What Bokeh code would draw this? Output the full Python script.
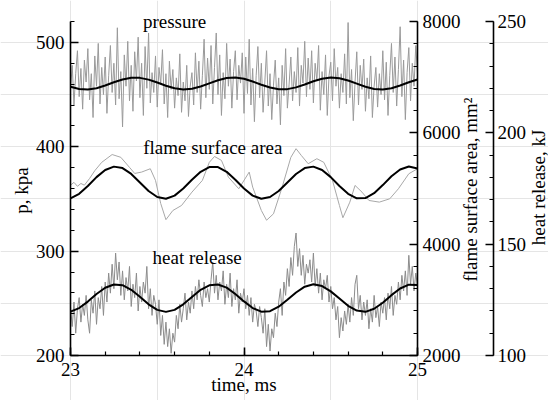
import math
from bokeh.plotting import figure
from bokeh.models import Range1d, LinearAxis, FixedTicker, Label
from bokeh.embed import file_html
from bokeh.resources import INLINE

# ---------------- data ----------------
# raw (noisy) signals sampled every 0.01 ms from 23 to 25 ms
time_raw = [round(23 + 0.01 * i, 2) for i in range(201)]

pressure_raw = [
    455, 478, 440, 470, 492, 448, 475, 436, 483, 462,
    494, 445, 470, 428, 487, 458, 499, 441, 476, 450,
    486, 432, 468, 497, 452, 480, 440, 514, 446, 472,
    419, 488, 458, 501, 444, 478, 434, 491, 463, 505,
    447, 480, 430, 496, 456, 509, 442, 471, 452, 487,
    438, 476, 460, 493, 441, 470, 428, 482, 455, 474,
    437, 466, 449, 489, 433, 462, 444, 478, 429, 458,
    471, 440, 490, 452, 482, 436, 468, 503, 447, 485,
    455, 497, 441, 476, 509, 450, 488, 430, 471, 446,
    499, 458, 484, 437, 472, 492, 445, 478, 461, 490,
    432, 486, 451, 503, 440, 475, 424, 468, 496, 447,
    480, 433, 462, 492, 439, 470, 426, 459, 483, 441,
    466, 421, 478, 449, 494, 437, 460, 486, 444, 472,
    452, 495, 439, 478, 461, 501, 448, 485, 455, 492,
    442, 480, 463, 497, 435, 472, 450, 488, 430, 468,
    481, 444, 494, 458, 476, 437, 470, 452, 489, 441,
    519, 447, 474, 425, 462, 491, 440, 478, 455, 484,
    434, 466, 446, 487, 428, 458, 476, 438, 470, 450,
    492, 445, 481, 430, 468, 499, 452, 486, 439, 474,
    515, 448, 483, 426, 471, 495, 444, 480, 458, 497,
    470,
]

heat_raw = [
    122, 113, 124, 110, 121, 126, 115, 123, 118, 127,
    116, 110, 125, 119, 129, 114, 126, 121, 131, 118,
    133, 124, 137, 128, 141, 130, 146, 134, 142, 127,
    138, 125, 135, 129, 140, 122, 132, 126, 137, 120,
    131, 124, 133, 128, 140, 121, 130, 118, 127, 123,
    114, 125, 109, 118, 105, 115, 104, 112, 101, 110,
    106, 118, 112, 123, 115, 121, 128, 116, 124, 119,
    129, 121, 131, 125, 134, 127, 122, 133, 126, 130,
    124, 134, 142, 128, 136, 125, 133, 129, 138, 123,
    132, 126, 137, 122, 130, 125, 134, 119, 128, 124,
    130, 121, 127, 118, 126, 115, 123, 120, 113, 122,
    117, 110, 121, 104, 114, 102, 112, 108, 119, 113,
    124, 130, 118, 133, 127, 139, 131, 144, 136, 149,
    155, 140, 148, 136, 145, 132, 141, 137, 143, 133,
    146, 131, 139, 128, 137, 125, 134, 130, 136, 124,
    131, 121, 126, 116, 122, 108, 117, 111, 120, 114,
    123, 115, 126, 118, 132, 136, 121, 127, 116, 124,
    118, 125, 112, 121, 115, 127, 117, 122, 113, 124,
    119, 126, 116, 128, 121, 131, 118, 127, 123, 133,
    125, 136, 129, 138, 127, 145, 132, 140, 129, 137,
    131,
]

flame_time = [
    23.00, 23.02, 23.04, 23.06, 23.08, 23.11, 23.14, 23.18, 23.24, 23.29,
    23.34, 23.37, 23.41, 23.46, 23.49, 23.52, 23.55, 23.59, 23.64, 23.70,
    23.76, 23.80, 23.83, 23.87, 23.91, 23.97, 24.03, 24.05, 24.10, 24.13,
    24.17, 24.22, 24.27, 24.30, 24.33, 24.37, 24.42, 24.46, 24.51, 24.55,
    24.57, 24.61, 24.64, 24.68, 24.72, 24.78, 24.84, 24.89, 24.95, 25.00,
]
flame_raw = [
    5060, 5110, 5040, 5090, 5060, 5180, 5320, 5470, 5610, 5560,
    5380, 5270, 5295, 5355, 5145, 4730, 4440, 4605, 4695, 4935,
    5145, 5470, 5575, 5505, 5205, 4995, 5295, 5025, 4605, 4430,
    4545, 5025, 5560, 5715, 5595, 5445, 5535, 5470, 5145, 4695,
    4475, 4755, 5055, 4935, 4785, 4755, 4815, 4995, 5265, 5355,
]

# fitted (smooth) curves read every 0.05 ms
time_fit = [round(23 + 0.05 * i, 2) for i in range(41)]
pressure_fit = [
    457.5, 455.4, 454.9, 456.1, 458.7, 461.8, 464.5, 466.1, 466.0, 464.3,
    461.5, 458.4, 456.0, 454.9, 455.6, 457.7, 460.7, 463.7, 465.8, 466.3,
    465.1, 462.5, 459.4, 456.7, 455.1, 455.2, 456.9, 459.7, 462.8, 465.2,
    466.3, 465.6, 463.5, 460.5, 457.5, 455.4, 454.9, 456.1, 458.7, 461.8,
    464.5,
]
flame_fit = [
    4824, 4904, 5045, 5204, 5333, 5393, 5367, 5262, 5109, 4956,
    4847, 4816, 4872, 4999, 5157, 5300, 5384, 5384, 5300, 5157,
    4999, 4872, 4816, 4847, 4955, 5109, 5261, 5367, 5393, 5333,
    5204, 5045, 4904, 4824, 4828, 4916, 5061, 5219, 5342, 5394,
    5360,
]
heat_fit = [
    119.7, 121.3, 124.2, 127.6, 130.4, 131.9, 131.6, 129.5, 126.4, 123.0,
    120.5, 119.6, 120.5, 123.0, 126.3, 129.5, 131.5, 131.9, 130.5, 127.6,
    124.3, 121.3, 119.7, 119.9, 121.9, 125.0, 128.3, 130.9, 132.0, 131.2,
    128.8, 125.6, 122.3, 120.2, 119.6, 121.0, 123.7, 127.1, 130.1, 131.8,
    131.7,
]

x_ticks = [23, 24, 25]
p_ticks = [200, 300, 400, 500]
flame_ticks = [2000, 4000, 6000, 8000]
heat_ticks = [100, 150, 200, 250]

# ---------------- figure ----------------
FONT = "Liberation Serif"
FS = "19px"

# the whole canvas is the plotting frame; axes sit at fixed data locations
p = figure(width=548, height=400, output_backend="svg", toolbar_location=None,
           x_range=Range1d(22.59654, 25.75504), y_range=Range1d(156.89, 540.12),
           x_axis_location=None, y_axis_location=None,
           min_border=0, min_border_left=0, min_border_right=0,
           min_border_top=0, min_border_bottom=0)
p.extra_y_ranges = {"flame": Range1d(1191.6, 8377.2), "heat": Range1d(79.79, 259.43)}
p.outline_line_color = None
p.background_fill_color = "white"
p.border_fill_color = "white"


def style(ax):
    ax.axis_line_color = "black"
    ax.axis_line_width = 1.6
    ax.major_tick_in = 8
    ax.major_tick_out = 0
    ax.minor_tick_in = 4
    ax.minor_tick_out = 0
    ax.major_tick_line_color = "black"
    ax.major_tick_line_width = 1.6
    ax.minor_tick_line_color = "black"
    ax.minor_tick_line_width = 1.2
    ax.major_label_text_font = FONT
    ax.major_label_text_font_size = FS
    ax.major_label_text_color = "black"


xa = LinearAxis(fixed_location=200, bounds=(23, 25),
                ticker=FixedTicker(ticks=x_ticks, minor_ticks=[23 + 0.2 * i for i in range(11)]))
style(xa)
xa.major_label_standoff = 7
p.add_layout(xa, "below")

ya = LinearAxis(fixed_location=23, bounds=(200, 520),
                ticker=FixedTicker(ticks=p_ticks, minor_ticks=list(range(200, 521, 20))))
style(ya)
ya.major_label_standoff = 6
p.add_layout(ya, "left")

fa = LinearAxis(y_range_name="flame", fixed_location=25, bounds=(2000, 8000),
                ticker=FixedTicker(ticks=flame_ticks, minor_ticks=list(range(2000, 8001, 400))))
style(fa)
fa.major_label_standoff = 5
p.add_layout(fa, "right")

ha = LinearAxis(y_range_name="heat", fixed_location=25.438, bounds=(100, 250),
                ticker=FixedTicker(ticks=heat_ticks, minor_ticks=list(range(100, 251, 10))))
style(ha)
ha.major_label_standoff = 4
p.add_layout(ha, "right")

# raw signals
p.line(time_raw, pressure_raw, line_color="#9a9a9a", line_width=1)
p.line(flame_time, flame_raw, y_range_name="flame", line_color="#a8a8a8", line_width=1)
p.line(time_raw, heat_raw, y_range_name="heat", line_color="#8c8c8c", line_width=1)
# fits
p.line(time_fit, pressure_fit, line_color="black", line_width=2)
p.line(time_fit, flame_fit, y_range_name="flame", line_color="black", line_width=2)
p.line(time_fit, heat_fit, y_range_name="heat", line_color="black", line_width=2)

# series titles
for txt, tx, ty in [("pressure", 23.60, 520.3), ("flame surface area", 23.82, 399.0),
                    ("heat release", 23.73, 293.6)]:
    p.add_layout(Label(x=tx, y=ty, text=txt, text_align="center", text_baseline="alphabetic",
                       text_font=FONT, text_font_size=FS, text_color="black"))

# axis titles
for txt, tx, ty, ang in [("time, ms", 24.0, 172.2, 0.0),
                         ("p, kpa", 22.7176, 358.1, math.pi / 2),
                         ("flame surface area, mm²", 25.3055, 359.0, math.pi / 2),
                         ("heat release, kJ", 25.6974, 361.0, math.pi / 2)]:
    p.add_layout(Label(x=tx, y=ty, text=txt, angle=ang, text_align="center",
                       text_baseline="middle", text_font=FONT, text_font_size=FS,
                       text_color="black"))

open("out.html", "w").write(file_html(p, INLINE))
